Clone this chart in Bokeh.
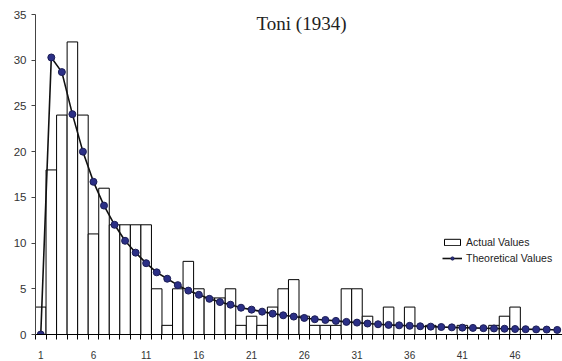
from bokeh.plotting import figure
from bokeh.models import (ColumnDataSource, FixedTicker, Range1d, Legend,
                          LegendItem, Label)
from bokeh.embed import file_html
from bokeh.resources import INLINE

categories = list(range(1, 51))
actual_values = [3, 18, 24, 32, 24, 11, 16, 12, 12, 12,
                 12, 5, 1, 5, 8, 5, 4, 4, 5, 1,
                 2, 1, 3, 5, 6, 2, 1, 1, 1, 5,
                 5, 2, 0, 3, 0, 3, 0, 1, 0, 0,
                 1, 0, 0, 1, 2, 3, 0, 0, 0, 0]
theoretical_values = [0, 30.3, 28.7, 24.1, 20.0, 16.7, 14.1, 12.0, 10.25, 8.95,
                      7.8, 6.8, 6.1, 5.4, 4.8, 4.35, 3.9, 3.55, 3.26, 2.93,
                      2.72, 2.5, 2.28, 2.1, 1.96, 1.81, 1.67, 1.59, 1.49, 1.38,
                      1.3, 1.2, 1.12, 1.05, 1.0, 0.95, 0.9, 0.86, 0.82, 0.78,
                      0.75, 0.72, 0.69, 0.66, 0.63, 0.6, 0.58, 0.56, 0.54, 0.5]
x_tick_labels = [1, 6, 11, 16, 21, 26, 31, 36, 41, 46]
y_ticks = [0, 5, 10, 15, 20, 25, 30, 35]
title_text = "Toni (1934)"

src = ColumnDataSource(dict(x=categories, actual=actual_values,
                            theo=theoretical_values))

p = figure(width=562, height=361, output_backend="svg", toolbar_location=None,
           x_range=Range1d(0.5, len(categories) + 0.5), y_range=Range1d(0, 35),
           min_border_left=35, min_border_right=0, min_border_top=14,
           min_border_bottom=25)
p.outline_line_color = None
p.xgrid.grid_line_color = None
p.ygrid.grid_line_color = None
p.background_fill_color = "white"
p.border_fill_color = "white"

bars = p.vbar(x="x", top="actual", width=1.0, bottom=0, source=src,
              fill_color="white", line_color="black", line_width=1)
line = p.line(x="x", y="theo", source=src, line_color="#111111", line_width=1.6)
pts = p.scatter(x="x", y="theo", source=src, size=7, marker="circle",
                fill_color="#2B2F86", line_color="#1B1D55", line_width=1)

# x axis
xa = p.xaxis[0]
xa.ticker = FixedTicker(ticks=x_tick_labels,
                        minor_ticks=[c - 0.5 for c in categories] + [len(categories) + 0.5])
xa.major_tick_out = 0
xa.major_tick_in = 0
xa.minor_tick_out = 5
xa.minor_tick_in = 0
xa.minor_tick_line_color = "black"
xa.axis_line_color = "black"
xa.major_label_standoff = 11
xa.major_label_text_font = "Liberation Sans"
xa.major_label_text_font_size = "10px"
xa.major_label_text_color = "#333333"

# y axis
ya = p.yaxis[0]
ya.ticker = FixedTicker(ticks=y_ticks)
ya.major_tick_out = 4
ya.major_tick_in = 0
ya.minor_tick_line_color = None
ya.axis_line_color = "#444444"
ya.major_tick_line_color = "#444444"
ya.major_label_standoff = 5
ya.major_label_text_font = "Liberation Sans"
ya.major_label_text_font_size = "11.5px"
ya.major_label_text_color = "#333333"

legend = Legend(items=[LegendItem(label="Actual Values", renderers=[bars]),
                       LegendItem(label="Theoretical Values", renderers=[line, pts])],
                location=(407, 68), orientation="vertical",
                glyph_width=20, glyph_height=8, label_height=16,
                label_standoff=4, spacing=0, padding=0, margin=0,
                border_line_color=None, background_fill_alpha=0,
                label_text_font="Liberation Sans", label_text_font_size="10.5px",
                label_text_color="#222222")
p.add_layout(legend, "center")

title = Label(x=266, y=311, x_units="screen", y_units="screen", text=title_text,
              text_align="center", text_baseline="alphabetic",
              text_font="Liberation Serif", text_font_size="19px",
              text_color="#222222")
p.add_layout(title)

open("out.html", "w").write(file_html(p, INLINE))
